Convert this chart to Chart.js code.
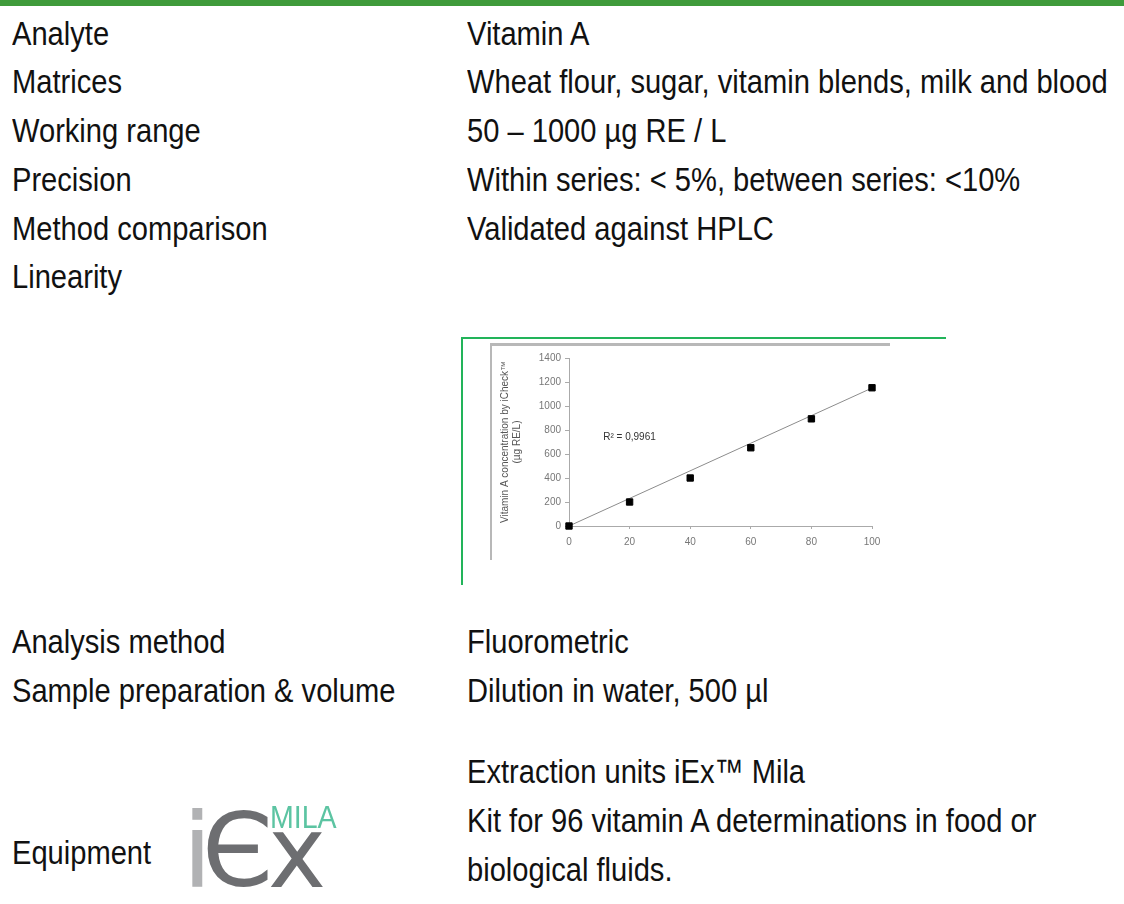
<!DOCTYPE html>
<html>
<head>
    <title>Vitamin A - iCheck linearity</title>
    <script src="https://cdn.jsdelivr.net/npm/chart.js"></script>
    <style>
        body { margin:0; width:1124px; height:904px; overflow:hidden; background:white; position:relative;
               font-family:"Liberation Sans", Arial, sans-serif; color:#111; }
        /* the document font is a condensed sans, so squeeze Liberation Sans a bit */
        .t { position:absolute; font-size:34px; line-height:40px; white-space:nowrap;
             transform:scaleX(0.856); transform-origin:0 0; }
        .l { left:12px; }
        .r { left:467px; }
    </style>
</head>
<body>
    <div style="position:absolute; left:0; top:0; width:1124px; height:6px; background:#3f9b3b;"></div>

    <div class="t l" style="top:13px;">Analyte</div>
    <div class="t r" style="top:13px;">Vitamin A</div>
    <div class="t l" style="top:61px;">Matrices</div>
    <div class="t r" style="top:61px;">Wheat flour, sugar, vitamin blends, milk and blood</div>
    <div class="t l" style="top:110px;">Working range</div>
    <div class="t r" style="top:110px;">50 – 1000 µg RE / L</div>
    <div class="t l" style="top:159px;">Precision</div>
    <div class="t r" style="top:159px;">Within series: &lt; 5%, between series: &lt;10%</div>
    <div class="t l" style="top:208px;">Method comparison</div>
    <div class="t r" style="top:208px;">Validated against HPLC</div>
    <div class="t l" style="top:256px;">Linearity</div>

    <!-- frame of the pasted chart -->
    <div style="position:absolute; left:461px; top:337px; width:483px; height:246px; border-top:2px solid #22b45a; border-left:2px solid #22b45a;"></div>
    <div style="position:absolute; left:490px; top:343px; width:398px; height:214px; border-top:3px solid #b8b8b8; border-left:2px solid #b8b8b8;"></div>
    <canvas id="linChart" width="400" height="212" style="position:absolute; left:491px; top:346px;"></canvas>

    <div class="t l" style="top:621px;">Analysis method</div>
    <div class="t r" style="top:621px;">Fluorometric</div>
    <div class="t l" style="top:670px;">Sample preparation &amp; volume</div>
    <div class="t r" style="top:670px;">Dilution in water, 500 µl</div>

    <div class="t r" style="top:751px;">Extraction units iEx™ Mila</div>
    <div class="t r" style="top:800px;">Kit for 96 vitamin A determinations in food or</div>
    <div class="t r" style="top:849px;">biological fluids.</div>
    <div class="t l" style="top:832px;">Equipment</div>

    <!-- iEx MILA logo -->
    <canvas id="logo" width="170" height="110" style="position:absolute; left:180px; top:790px;"></canvas>

    <script>
        // reference concentration (%) vs measured vitamin A (µg RE/L)
        const xValues = [0, 20, 40, 60, 80, 100];
        const yValues = [0, 200, 400, 652, 893, 1152];
        // linear trendline as drawn in the picture (through origin)
        const trendX = [0, 100];
        const trendY = [0, 1150];
        const r2Text = 'R² = 0,9961';
        const yTitle = ['Vitamin A concentration by iCheck™', '(µg RE/L)'];

        const points = xValues.map((x, i) => ({ x: x, y: yValues[i] }));
        const trend = trendX.map((x, i) => ({ x: x, y: trendY[i] }));

        const r2Label = {
            id: 'r2Label',
            afterDatasetsDraw(chart) {
                const ctx = chart.ctx;
                const xs = chart.scales.x, ys = chart.scales.y;
                ctx.save();
                ctx.font = '10px "Liberation Sans", Arial, sans-serif';
                ctx.fillStyle = '#333';
                ctx.textBaseline = 'middle';
                ctx.fillText(r2Text, xs.getPixelForValue(11.3), ys.getPixelForValue(742));
                ctx.restore();
            }
        };

        const tickFont = { family: '"Liberation Sans", Arial, sans-serif', size: 10 };

        new Chart(document.getElementById('linChart'), {
            type: 'scatter',
            data: {
                datasets: [
                    { data: points, pointStyle: 'rect', pointRadius: 4.5, pointHoverRadius: 4.5,
                      backgroundColor: '#000', borderColor: '#000', showLine: false, clip: false },
                    { data: trend, showLine: true, pointRadius: 0, borderColor: '#8c8c8c', borderWidth: 1, clip: false }
                ]
            },
            options: {
                responsive: false,
                animation: false,
                layout: { padding: { top: 12, right: 19, left: 0, bottom: 0 } },
                plugins: { legend: { display: false }, tooltip: { enabled: false } },
                scales: {
                    x: {
                        min: 0, max: 100,
                        ticks: { stepSize: 20, color: '#777', font: tickFont, padding: 7 },
                        grid: { drawOnChartArea: false, tickLength: 3, color: '#aaa' },
                        border: { color: '#aaa' },
                        afterFit: s => { s.height = 32; }
                    },
                    y: {
                        min: 0, max: 1400,
                        ticks: { stepSize: 200, color: '#777', font: tickFont, padding: 4, callback: v => String(v) },
                        grid: { drawOnChartArea: false, tickLength: 4, color: '#aaa' },
                        border: { color: '#aaa' },
                        title: { display: true, text: yTitle, color: '#555',
                                 font: { family: '"Liberation Sans", Arial, sans-serif', size: 10 }, padding: { top: 8, bottom: 0 } },
                        afterFit: s => { s.width = 78; }
                    }
                }
            },
            plugins: [r2Label]
        });

        // logo: each glyph fitted to its box in the picture (page pixels)
        const logoCanvas = document.getElementById('logo');
        const lctx = logoCanvas.getContext('2d');
        const ox = 180, oy = 790;
        function glyph(txt, font, color, x0, y0, x1, y1) {
            lctx.save();
            lctx.font = font;
            lctx.textBaseline = 'alphabetic';
            const m = lctx.measureText(txt);
            const w = m.actualBoundingBoxLeft + m.actualBoundingBoxRight;
            const h = m.actualBoundingBoxAscent + m.actualBoundingBoxDescent;
            lctx.translate(x0 - ox, y0 - oy);
            lctx.scale((x1 - x0) / w, (y1 - y0) / h);
            lctx.fillStyle = color;
            lctx.fillText(txt, m.actualBoundingBoxLeft, m.actualBoundingBoxAscent);
            lctx.restore();
        }
        document.fonts.ready.then(() => {
            glyph('i', '100px "DejaVu Sans"', '#b1b2b4', 192, 809, 203, 887);
            glyph('Є', '100px "DejaVu Sans"', '#6d6e71', 207, 810, 268, 887);
            glyph('x', '100px "DejaVu Sans"', '#6d6e71', 270, 832, 323, 887);
            glyph('MILA', '28px "Liberation Sans"', '#5cc4a2', 272, 807, 337, 828);
        });
    </script>
</body>
</html>
